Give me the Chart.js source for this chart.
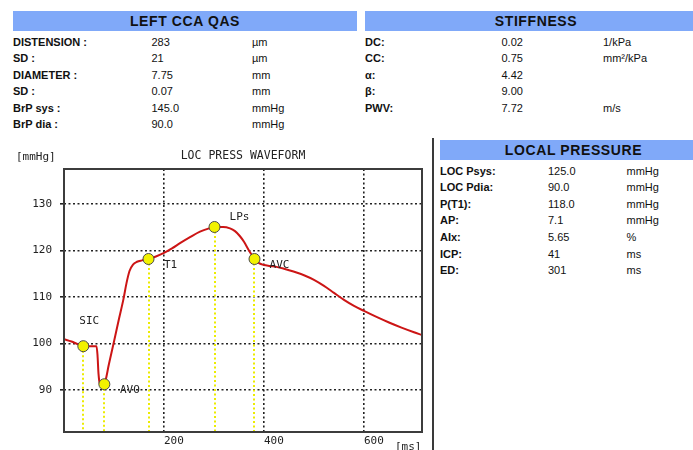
<!DOCTYPE html>
<html><head><meta charset="utf-8">
<script src="https://cdn.jsdelivr.net/npm/chart.js@4.4.0/dist/chart.umd.min.js"></script>
<style>
html,body{margin:0;padding:0;background:#fff;}
#page{position:relative;width:693px;height:450px;overflow:hidden;background:#fff;font-family:"Liberation Sans",Arial,sans-serif;color:#111;}
.bar{position:absolute;background:#80a9f9;}
.head{position:absolute;font-weight:bold;font-size:14px;letter-spacing:0.6px;line-height:16px;white-space:nowrap;transform:translateX(-50%);color:#111;}
.cell{position:absolute;font-size:11px;line-height:16px;white-space:nowrap;color:#111;}
.lab{font-weight:bold;}
#divider{position:absolute;left:431.5px;top:138px;width:2px;height:312px;background:#3a3a3a;}
#wrap{position:absolute;left:0;top:140px;width:432px;height:310px;}
</style></head>
<body>
<div id="page">
  <div class="bar" style="left:13px;top:10.5px;width:344px;height:20px;"></div>
  <div class="bar" style="left:364.5px;top:10.5px;width:330px;height:20px;"></div>
  <div class="bar" style="left:440px;top:140px;width:254px;height:20px;"></div>
  <div class="head" style="left:185px;top:13px;">LEFT CCA QAS</div>
  <div class="head" style="left:536px;top:13px;">STIFFNESS</div>
  <div class="head" style="left:573.5px;top:142px;">LOCAL PRESSURE</div>
  <div id="divider"></div>
  <div id="wrap"><canvas id="c" width="432" height="310"></canvas></div>
</div>
<script>
// ---- table data ----
const qasLabels = ["DISTENSION :", "SD :", "DIAMETER :", "SD :", "BrP sys :", "BrP dia :"];
const qasValues = ["283", "21", "7.75", "0.07", "145.0", "90.0"];
const qasUnits  = ["µm", "µm", "mm", "mm", "mmHg", "mmHg"];

const stiffLabels = ["DC:", "CC:", "α:", "β:", "PWV:"];
const stiffValues = ["0.02", "0.75", "4.42", "9.00", "7.72"];
const stiffUnits  = ["1/kPa", "mm²/kPa", "", "", "m/s"];

const locLabels = ["LOC Psys:", "LOC Pdia:", "P(T1):", "AP:", "AIx:", "ICP:", "ED:"];
const locValues = ["125.0", "90.0", "118.0", "7.1", "5.65", "41", "301"];
const locUnits  = ["mmHg", "mmHg", "mmHg", "mmHg", "%", "ms", "ms"];

// ---- waveform data ----
const timeMs = [0,15,28,38.6,55,65,67,69,72,76,80.7,90,100,110,119,125,131,138,146,156,169,185,200,216,232,252,272,290,301,318,332,342,352,360,369,376,381,390,400,412,425,440,459,480,500,520,540,560,580,600,625,650,675,700,716];
const pressure = [100.9,100.4,99.8,99.4,99.4,99.4,97.5,93.5,91.2,90.9,91.2,95.6,100.4,105.3,109.6,113.0,115.6,117.0,117.6,117.9,118.2,118.8,119.5,120.5,121.6,122.9,124.1,124.8,125.1,125.1,124.8,124.2,123.1,121.9,120.2,119.0,118.2,117.3,116.9,116.7,116.5,116.1,115.5,114.7,113.7,112.4,110.9,109.4,108.1,107.0,105.7,104.5,103.4,102.4,101.8];

const markerNames  = ["SIC", "AVO", "T1", "LPs", "AVC"];
const markerTimes  = [38.6, 80.7, 169, 301, 381];
const markerValues = [99.4, 91.2, 118.2, 125.1, 118.2];

const xTicks = [200, 400, 600];
const yTicks = [90, 100, 110, 120, 130];
const xRange = [0, 716];
const yRange = [80.9, 137.6];

// ---- styling (pixel offsets of marker labels) ----
const labelOffsets = [[6,-25],[25.5,5.5],[22,6],[25,-10],[25,6]];

// ---- build tables ----
const page = document.getElementById('page');
function addTable(labels, values, units, cols, top0, step) {
  labels.forEach((l, i) => {
    const top = top0 + step * i;
    [[l, cols[0], true], [values[i], cols[1], false], [units[i], cols[2], false]].forEach(([txt, x, bold]) => {
      const d = document.createElement('div');
      d.className = 'cell' + (bold ? ' lab' : '');
      d.style.left = x + 'px';
      d.style.top = top + 'px';
      d.textContent = txt;
      page.appendChild(d);
    });
  });
}
addTable(qasLabels, qasValues, qasUnits, [13, 151.5, 252], 33.7, 16.55);
addTable(stiffLabels, stiffValues, stiffUnits, [365, 501.5, 603], 33.7, 16.55);
addTable(locLabels, locValues, locUnits, [440, 548, 626.5], 162.5, 16.6);

// ---- chart ----
const mono = "'DejaVu Sans Mono', monospace";
const deco = {
  id: 'deco',
  beforeDatasetsDraw(chart) {
    const {ctx, chartArea, scales: {x, y}} = chart;
    ctx.save();
    ctx.strokeStyle = '#ecec00';
    ctx.lineWidth = 2;
    ctx.setLineDash([2, 2.5]);
    markerTimes.forEach((t, i) => {
      const px = Math.round(x.getPixelForValue(t));
      ctx.beginPath();
      ctx.moveTo(px, y.getPixelForValue(markerValues[i]));
      ctx.lineTo(px, chartArea.bottom);
      ctx.stroke();
    });
    ctx.restore();
  },
  afterDraw(chart) {
    const {ctx, chartArea, scales: {x, y}} = chart;
    ctx.save();
    ctx.strokeStyle = '#3c3c3c';
    ctx.lineWidth = 2;
    ctx.strokeRect(chartArea.left, chartArea.top, chartArea.right - chartArea.left, chartArea.bottom - chartArea.top);
    ctx.fillStyle = '#222';
    ctx.font = '11px ' + mono;
    ctx.textAlign = 'center';
    ctx.textBaseline = 'middle';
    markerNames.forEach((n, i) => {
      const px = x.getPixelForValue(markerTimes[i]) + labelOffsets[i][0];
      const py = y.getPixelForValue(markerValues[i]) + labelOffsets[i][1];
      ctx.fillText(n, px, py);
    });
    ctx.textBaseline = 'alphabetic';
    ctx.font = '11.5px ' + mono;
    ctx.fillText('LOC PRESS WAVEFORM', (chartArea.left + chartArea.right) / 2, 19);
    ctx.font = '11px ' + mono;
    ctx.textAlign = 'left';
    ctx.fillText('[mmHg]', 16, 19.5);
    ctx.fillText('[ms]', 395, 310);
    ctx.restore();
  }
};

new Chart(document.getElementById('c'), {
  type: 'scatter',
  data: {
    datasets: [
      {
        data: markerTimes.map((t, i) => ({x: t, y: markerValues[i]})),
        pointRadius: 5.5,
        pointBackgroundColor: '#f2f200',
        pointBorderColor: '#4a4a4a',
        pointBorderWidth: 1,
        order: 0
      },
      {
        type: 'line',
        data: timeMs.map((t, i) => ({x: t, y: pressure[i]})),
        borderColor: '#cc1515',
        borderWidth: 2,
        pointRadius: 0,
        fill: false,
        cubicInterpolationMode: 'monotone',
        order: 1
      }
    ]
  },
  options: {
    responsive: false,
    animation: false,
    devicePixelRatio: 1,
    layout: {padding: {top: 29, right: 10, left: 0, bottom: 0}},
    plugins: {legend: {display: false}, tooltip: {enabled: false}, title: {display: false}},
    scales: {
      x: {
        type: 'linear', min: xRange[0], max: xRange[1],
        afterBuildTicks: s => { s.ticks = xTicks.map(v => ({value: v})); },
        afterFit: s => { s.height = 18; },
        grid: {color: '#222', lineWidth: 1.6, drawTicks: false},
        border: {display: false, dash: [2, 2.5]},
        ticks: {align: 'start', padding: 3, color: '#222', font: {family: mono, size: 11}, maxRotation: 0, autoSkip: false}
      },
      y: {
        type: 'linear', min: yRange[0], max: yRange[1],
        afterBuildTicks: s => { s.ticks = yTicks.map(v => ({value: v})); },
        afterFit: s => { s.width = 64; },
        grid: {color: '#222', lineWidth: 1.6, drawTicks: true, tickLength: 4},
        border: {display: false, dash: [2, 2.5]},
        ticks: {padding: 8, color: '#222', font: {family: mono, size: 11}, autoSkip: false}
      }
    }
  },
  plugins: [deco]
});
</script>
</body></html>
